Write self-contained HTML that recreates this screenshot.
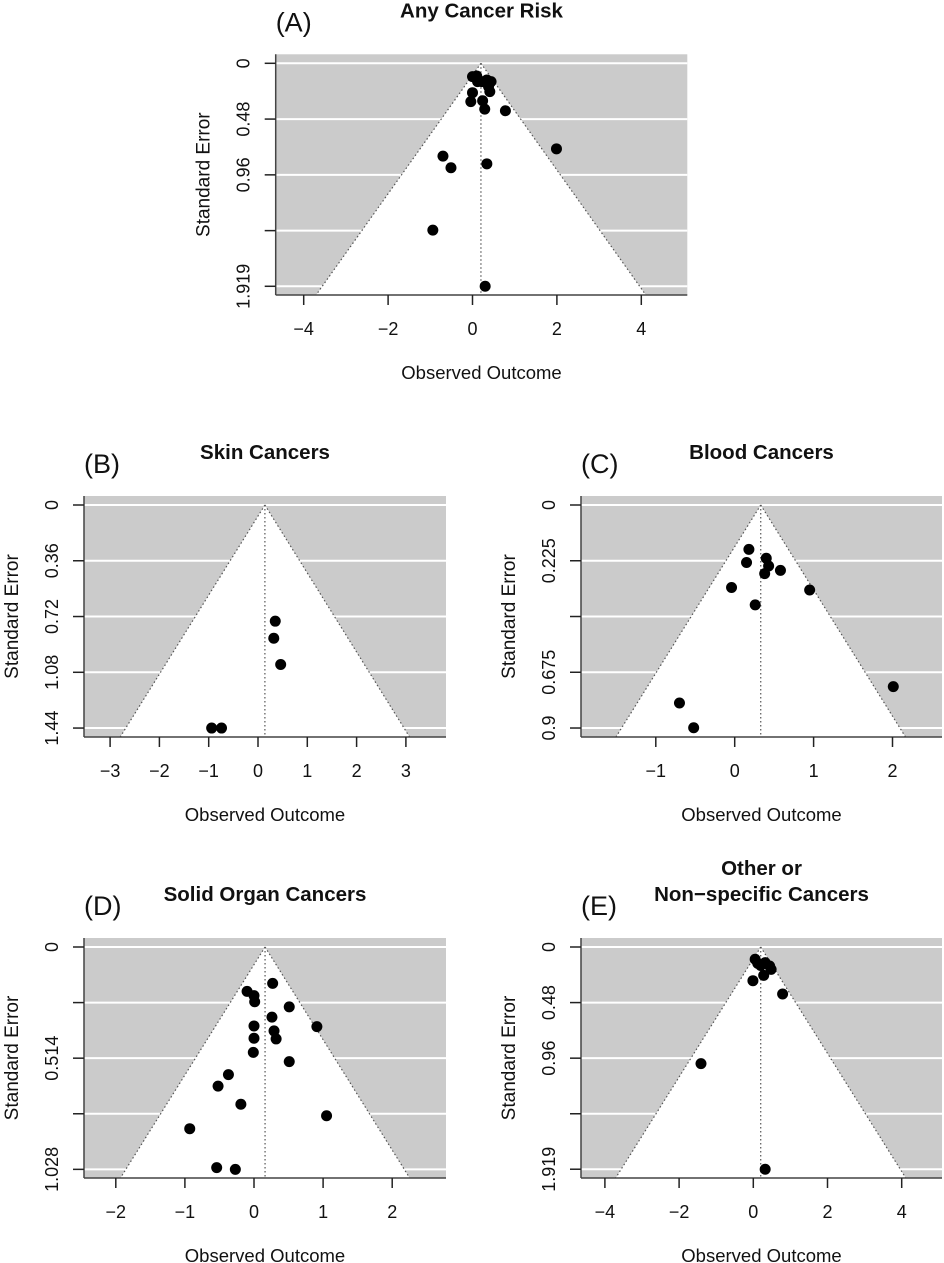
<!DOCTYPE html>
<html><head><meta charset="utf-8"><style>
html,body{margin:0;padding:0;background:#fff;}
svg{display:block;font-family:"Liberation Sans",Arial,sans-serif;}
</style></head><body>
<svg id="fig" width="944" height="1263" viewBox="0 0 944 1263" xmlns="http://www.w3.org/2000/svg"></svg>
<script>
// ---- data ----
const aX = [0.00,0.10,0.12,0.22,0.34,0.44,0.38,0.41,0.00,-0.04,0.24,0.29,0.78,1.99,-0.70,-0.51,0.34,-0.94,0.30];
const aSE = [0.115,0.109,0.158,0.158,0.144,0.158,0.201,0.244,0.253,0.330,0.322,0.394,0.408,0.736,0.799,0.899,0.865,1.436,1.919];
const bX = [0.35,0.32,0.46,-0.94,-0.74];
const bSE = [0.75,0.86,1.03,1.44,1.44];
const cX = [0.18,0.15,0.40,0.43,0.38,0.58,-0.04,0.26,0.95,2.01,-0.70,-0.52];
const cSE = [0.179,0.232,0.215,0.246,0.277,0.264,0.333,0.403,0.343,0.733,0.799,0.899];
const dX = [0.27,-0.10,0.00,0.01,0.51,0.26,0.91,0.00,0.29,0.32,0.00,-0.01,0.51,-0.37,-0.52,-0.19,1.05,-0.93,-0.54,-0.27];
const dSE = [0.168,0.205,0.225,0.253,0.277,0.324,0.368,0.365,0.388,0.425,0.422,0.487,0.530,0.590,0.643,0.727,0.780,0.840,1.020,1.028];
const eX = [0.05,0.12,0.32,0.44,0.48,0.28,-0.01,0.79,-1.41,0.32,0.20];
const eSE = [0.106,0.141,0.135,0.164,0.193,0.245,0.291,0.406,1.007,1.919,0.16];
const centers = [0.20,0.14,0.33,0.16,0.20];
const xTicksA = [-4,-2,0,2,4];
const xTicksB = [-3,-2,-1,0,1,2,3];
const xTicksC = [-1,0,1,2];
const xTicksD = [-2,-1,0,1,2];
const xTicksE = [-4,-2,0,2,4];
const yTicksA = [0,0.48,0.96,1.44,1.919];
const yLabelsA = ['0','0.48','0.96','','1.919'];
const yTicksB = [0,0.36,0.72,1.08,1.44];
const yLabelsB = ['0','0.36','0.72','1.08','1.44'];
const yTicksC = [0,0.225,0.45,0.675,0.9];
const yLabelsC = ['0','0.225','','0.675','0.9'];
const yTicksD = [0,0.257,0.514,0.771,1.028];
const yLabelsD = ['0','','0.514','','1.028'];
const yTicksE = [0,0.48,0.96,1.44,1.919];
const yLabelsE = ['0','0.48','0.96','','1.919'];
const titles = [['Any Cancer Risk'],['Skin Cancers'],['Blood Cancers'],['Solid Organ Cancers'],['Other or','Non\u2212specific Cancers']];
const tags = ['(A)','(B)','(C)','(D)','(E)'];

const NS='http://www.w3.org/2000/svg';
const svg=document.getElementById('fig');
function mk(tag,attrs,parent,txt){const e=document.createElementNS(NS,tag);for(const k in attrs)e.setAttribute(k,attrs[k]);if(txt!==undefined)e.textContent=txt;(parent||svg).appendChild(e);return e;}
function fmt(v){return v<0?'\u2212'+Math.abs(v):String(v);}

const panels=[
 {id:'a',L:275.7,T:54.3,R:687.3,B:295,x0:472.5,xs:42.2,y0:63.3,ys:116.2,X:aX,S:aSE,xt:xTicksA,yt:yTicksA,yl:yLabelsA},
 {id:'b',L:84,T:496,R:446,B:737,x0:258,xs:49.3,y0:505,ys:154.9,X:bX,S:bSE,xt:xTicksB,yt:yTicksB,yl:yLabelsB},
 {id:'c',L:581,T:496,R:942,B:737,x0:734.7,xs:78.9,y0:505,ys:247.8,X:cX,S:cSE,xt:xTicksC,yt:yTicksC,yl:yLabelsC},
 {id:'d',L:84,T:938,R:446,B:1178,x0:254,xs:69.1,y0:947,ys:216.3,X:dX,S:dSE,xt:xTicksD,yt:yTicksD,yl:yLabelsD},
 {id:'e',L:581,T:938,R:942,B:1178,x0:753.3,xs:37.1,y0:947,ys:115.8,X:eX,S:eSE,xt:xTicksE,yt:yTicksE,yl:yLabelsE}
];

panels.forEach((p,i)=>{
  const g=mk('g',{});
  
  
  const sx=v=>p.x0+v*p.xs, sy=v=>p.y0+v*p.ys;
  const bg=mk('rect',{x:p.L,y:p.T,width:p.R-p.L,height:p.B-p.T,fill:'#cbcbcb'},g);
  
  
  p.yt.forEach(t=>{
    const gl=mk('line',{x1:p.L,x2:p.R,y1:sy(t),y2:sy(t),stroke:'#fff','stroke-width':2},g);
    
    
  });
  const c=centers[i];
  const seMax=(p.B-p.y0)/p.ys;
  const lx=sx(c-1.96*seMax), rx=sx(c+1.96*seMax);
  const tri=mk('polygon',{points:`${sx(c)},${sy(0)} ${lx},${p.B} ${rx},${p.B}`,fill:'#fff'},g);
  
  
  mk('line',{x1:sx(c),y1:sy(0),x2:lx,y2:p.B,stroke:'#555','stroke-width':1.2,'stroke-dasharray':'1.5,2.5'},g);
  mk('line',{x1:sx(c),y1:sy(0),x2:rx,y2:p.B,stroke:'#555','stroke-width':1.2,'stroke-dasharray':'1.5,2.5'},g);
  const cl=mk('line',{x1:sx(c),y1:sy(0),x2:sx(c),y2:p.B,stroke:'#555','stroke-width':1.2,'stroke-dasharray':'1.5,2.5'},g);
  
  
  mk('line',{x1:p.L,y1:p.T,x2:p.L,y2:p.B,stroke:'#444','stroke-width':1.5},g);
  mk('line',{x1:p.L,y1:p.B,x2:p.R,y2:p.B,stroke:'#444','stroke-width':1.5},g);
  p.yt.forEach((t,k)=>{
    mk('line',{x1:p.L-11,x2:p.L,y1:sy(t),y2:sy(t),stroke:'#222','stroke-width':1.5},g);
    if(p.yl[k]){
      const tx=mk('text',{x:p.L-26,y:sy(t),'font-size':18,'text-anchor':'middle',fill:'#111',transform:`rotate(-90 ${p.L-26} ${sy(t)})`},g,p.yl[k]);
      
      
    }
  });
  p.xt.forEach(t=>{
    mk('line',{x1:sx(t),x2:sx(t),y1:p.B,y2:p.B+10,stroke:'#222','stroke-width':1.5},g);
    const tx=mk('text',{x:sx(t),y:p.B+40,'font-size':18,'text-anchor':'middle',fill:'#111'},g,fmt(t));
    
    
  });
  const cx=(p.L+p.R)/2;
  const xt=mk('text',{x:cx,y:p.B+84,'font-size':18.5,'text-anchor':'middle',fill:'#111'},g,'Observed Outcome');
  
  
  const yx=p.L-66, yy=(p.T+p.B)/2;
  const yt=mk('text',{x:yx,y:yy,'font-size':19,'text-anchor':'middle',fill:'#111',transform:`rotate(-90 ${yx} ${yy})`},g,'Standard Error');
  
  
  const tl=titles[i];
  tl.forEach((s,k)=>{
    const ty=p.T-37-(tl.length-1-k)*26;
    const tt=mk('text',{x:cx,y:ty,'font-size':20.5,'font-weight':'bold','text-anchor':'middle',fill:'#111'},g,s);
    
    
  });
  const tg=mk('text',{x:p.L,y:p.T-23,'font-size':27,fill:'#111'},g,tags[i]);
  
  
  p.X.forEach((v,k)=>{
    const pt=mk('circle',{cx:sx(v),cy:sy(p.S[k]),r:5.5,fill:'#000'},g);
    
    
  });
});
</script>
</body></html>
